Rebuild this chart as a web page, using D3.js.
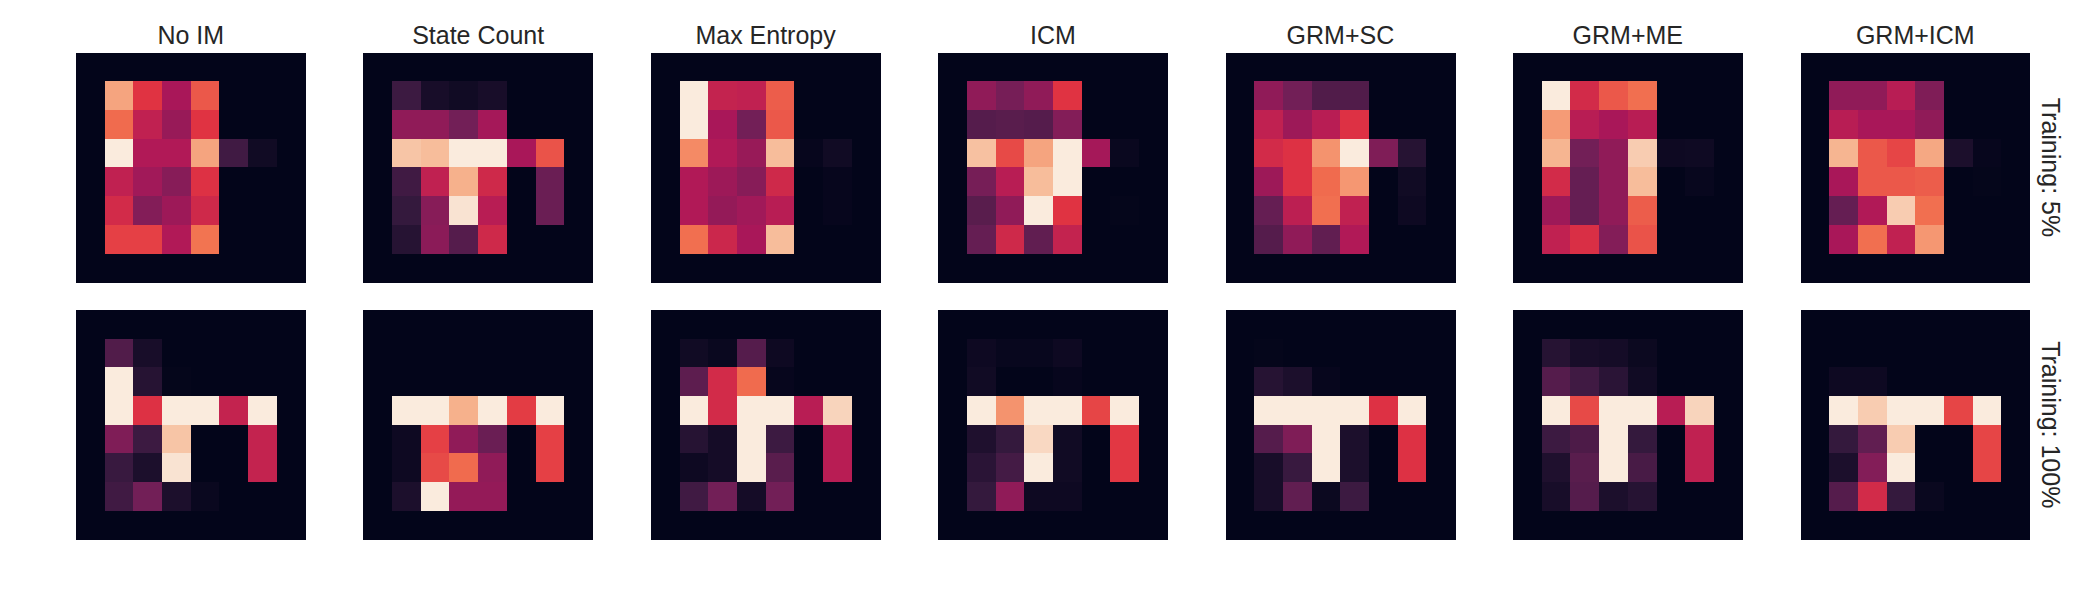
<!DOCTYPE html>
<html>
<head>
<meta charset="utf-8">
<script src="https://cdn.jsdelivr.net/npm/d3@7"></script>
<style>
  body { margin: 0; background: #fff; }
  text { font-family: "Liberation Sans", Arial, sans-serif; fill: #262626; }
</style>
</head>
<body>
<svg id="chart" width="2100" height="600"></svg>
<script>
// column titles and row labels
var methods = ["No IM", "State Count", "Max Entropy", "ICM", "GRM+SC", "GRM+ME", "GRM+ICM"];
var trainings = ["Training: 5%", "Training: 100%"];

// 8x8 visitation maps, values in [0, 1]
var noIM_5 = [
  [0, 0, 0, 0, 0, 0, 0, 0],
  [0, 0.82, 0.57, 0.42, 0.65, 0, 0, 0],
  [0, 0.69, 0.48, 0.38, 0.57, 0, 0, 0],
  [0, 1.00, 0.44, 0.44, 0.82, 0.17, 0.04, 0],
  [0, 0.48, 0.40, 0.34, 0.56, 0, 0, 0],
  [0, 0.53, 0.33, 0.39, 0.52, 0, 0, 0],
  [0, 0.60, 0.60, 0.44, 0.71, 0, 0, 0],
  [0, 0, 0, 0, 0, 0, 0, 0]
];
var stateCount_5 = [
  [0, 0, 0, 0, 0, 0, 0, 0],
  [0, 0.16, 0.06, 0.04, 0.06, 0, 0, 0],
  [0, 0.36, 0.36, 0.29, 0.41, 0, 0, 0],
  [0, 0.90, 0.88, 1.00, 1.00, 0.42, 0.64, 0],
  [0, 0.17, 0.48, 0.85, 0.52, 0, 0.27, 0],
  [0, 0.14, 0.34, 0.98, 0.46, 0, 0.27, 0],
  [0, 0.10, 0.35, 0.22, 0.52, 0, 0, 0],
  [0, 0, 0, 0, 0, 0, 0, 0]
];
var maxEntropy_5 = [
  [0, 0, 0, 0, 0, 0, 0, 0],
  [0, 1.00, 0.49, 0.48, 0.66, 0, 0, 0],
  [0, 1.00, 0.42, 0.29, 0.65, 0, 0, 0],
  [0, 0.76, 0.44, 0.38, 0.88, 0.01, 0.04, 0],
  [0, 0.44, 0.39, 0.34, 0.52, 0, 0.01, 0],
  [0, 0.44, 0.37, 0.40, 0.46, 0, 0.01, 0],
  [0, 0.70, 0.51, 0.42, 0.88, 0, 0, 0],
  [0, 0, 0, 0, 0, 0, 0, 0]
];
var icm_5 = [
  [0, 0, 0, 0, 0, 0, 0, 0],
  [0, 0.36, 0.30, 0.36, 0.57, 0, 0, 0],
  [0, 0.22, 0.23, 0.22, 0.33, 0, 0, 0],
  [0, 0.89, 0.62, 0.82, 1.00, 0.41, 0.02, 0],
  [0, 0.30, 0.46, 0.88, 1.00, 0, 0, 0],
  [0, 0.23, 0.36, 1.00, 0.57, 0, 0.005, 0],
  [0, 0.26, 0.52, 0.25, 0.49, 0, 0, 0],
  [0, 0, 0, 0, 0, 0, 0, 0]
];
var grmSC_5 = [
  [0, 0, 0, 0, 0, 0, 0, 0],
  [0, 0.36, 0.29, 0.21, 0.21, 0, 0, 0],
  [0, 0.48, 0.39, 0.46, 0.56, 0, 0, 0],
  [0, 0.53, 0.56, 0.78, 1.00, 0.32, 0.10, 0],
  [0, 0.39, 0.56, 0.69, 0.79, 0, 0.04, 0],
  [0, 0.26, 0.47, 0.70, 0.48, 0, 0.03, 0],
  [0, 0.22, 0.36, 0.25, 0.44, 0, 0, 0],
  [0, 0, 0, 0, 0, 0, 0, 0]
];
var grmME_5 = [
  [0, 0, 0, 0, 0, 0, 0, 0],
  [0, 1.00, 0.53, 0.65, 0.70, 0, 0, 0],
  [0, 0.80, 0.46, 0.42, 0.46, 0, 0, 0],
  [0, 0.86, 0.29, 0.36, 0.92, 0.03, 0.035, 0],
  [0, 0.53, 0.26, 0.36, 0.88, 0, 0.015, 0],
  [0, 0.39, 0.26, 0.36, 0.66, 0, 0, 0],
  [0, 0.48, 0.55, 0.33, 0.64, 0, 0, 0],
  [0, 0, 0, 0, 0, 0, 0, 0]
];
var grmICM_5 = [
  [0, 0, 0, 0, 0, 0, 0, 0],
  [0, 0.36, 0.36, 0.46, 0.32, 0, 0, 0],
  [0, 0.46, 0.42, 0.42, 0.36, 0, 0, 0],
  [0, 0.86, 0.65, 0.61, 0.83, 0.07, 0.01, 0],
  [0, 0.42, 0.65, 0.65, 0.66, 0, 0.005, 0],
  [0, 0.26, 0.44, 0.92, 0.70, 0, 0, 0],
  [0, 0.42, 0.70, 0.48, 0.79, 0, 0, 0],
  [0, 0, 0, 0, 0, 0, 0, 0]
];

var noIM_100 = [
  [0, 0, 0, 0, 0, 0, 0, 0],
  [0, 0.21, 0.06, 0, 0, 0, 0, 0],
  [0, 1.00, 0.10, 0.005, 0, 0, 0, 0],
  [0, 1.00, 0.56, 1.00, 1.00, 0.49, 1.00, 0],
  [0, 0.32, 0.16, 0.90, 0, 0, 0.49, 0],
  [0, 0.15, 0.07, 0.98, 0, 0, 0.49, 0],
  [0, 0.17, 0.29, 0.07, 0.02, 0, 0, 0],
  [0, 0, 0, 0, 0, 0, 0, 0]
];
var stateCount_100 = [
  [0, 0, 0, 0, 0, 0, 0, 0],
  [0, 0, 0, 0, 0, 0, 0, 0],
  [0, 0, 0, 0, 0, 0, 0, 0],
  [0, 1.00, 1.00, 0.85, 1.00, 0.59, 1.00, 0],
  [0, 0.03, 0.60, 0.36, 0.27, 0, 0.60, 0],
  [0, 0.03, 0.62, 0.69, 0.36, 0, 0.60, 0],
  [0, 0.07, 1.00, 0.37, 0.37, 0, 0, 0],
  [0, 0, 0, 0, 0, 0, 0, 0]
];
var maxEntropy_100 = [
  [0, 0, 0, 0, 0, 0, 0, 0],
  [0, 0.04, 0.02, 0.22, 0.03, 0, 0, 0],
  [0, 0.24, 0.53, 0.69, 0.01, 0, 0, 0],
  [0, 1.00, 0.53, 1.00, 1.00, 0.46, 0.94, 0],
  [0, 0.10, 0.05, 1.00, 0.16, 0, 0.46, 0],
  [0, 0.03, 0.05, 1.00, 0.23, 0, 0.46, 0],
  [0, 0.17, 0.29, 0.05, 0.29, 0, 0, 0],
  [0, 0, 0, 0, 0, 0, 0, 0]
];
var icm_100 = [
  [0, 0, 0, 0, 0, 0, 0, 0],
  [0, 0.03, 0.015, 0.015, 0.03, 0, 0, 0],
  [0, 0.04, 0, 0, 0.01, 0, 0, 0],
  [0, 1.00, 0.78, 1.00, 1.00, 0.61, 1.00, 0],
  [0, 0.08, 0.14, 0.95, 0.04, 0, 0.58, 0],
  [0, 0.11, 0.18, 1.00, 0.04, 0, 0.58, 0],
  [0, 0.14, 0.36, 0.03, 0.03, 0, 0, 0],
  [0, 0, 0, 0, 0, 0, 0, 0]
];
var grmSC_100 = [
  [0, 0, 0, 0, 0, 0, 0, 0],
  [0, 0.005, 0, 0, 0, 0, 0, 0],
  [0, 0.10, 0.07, 0.01, 0, 0, 0, 0],
  [0, 1.00, 1.00, 1.00, 1.00, 0.56, 1.00, 0],
  [0, 0.22, 0.32, 1.00, 0.07, 0, 0.56, 0],
  [0, 0.06, 0.15, 1.00, 0.07, 0, 0.56, 0],
  [0, 0.06, 0.25, 0.025, 0.16, 0, 0, 0],
  [0, 0, 0, 0, 0, 0, 0, 0]
];
var grmME_100 = [
  [0, 0, 0, 0, 0, 0, 0, 0],
  [0, 0.10, 0.06, 0.05, 0.025, 0, 0, 0],
  [0, 0.22, 0.17, 0.11, 0.04, 0, 0, 0],
  [0, 1.00, 0.62, 1.00, 1.00, 0.46, 0.94, 0],
  [0, 0.16, 0.20, 1.00, 0.14, 0, 0.48, 0],
  [0, 0.08, 0.23, 1.00, 0.19, 0, 0.48, 0],
  [0, 0.06, 0.22, 0.07, 0.10, 0, 0, 0],
  [0, 0, 0, 0, 0, 0, 0, 0]
];
var grmICM_100 = [
  [0, 0, 0, 0, 0, 0, 0, 0],
  [0, 0, 0, 0, 0, 0, 0, 0],
  [0, 0.03, 0.03, 0, 0, 0, 0, 0],
  [0, 1.00, 0.92, 1.00, 1.00, 0.61, 1.00, 0],
  [0, 0.14, 0.25, 0.92, 0, 0, 0.61, 0],
  [0, 0.07, 0.33, 1.00, 0, 0, 0.61, 0],
  [0, 0.22, 0.53, 0.14, 0.02, 0, 0, 0],
  [0, 0, 0, 0, 0, 0, 0, 0]
];

var grids = [
  [noIM_5, stateCount_5, maxEntropy_5, icm_5, grmSC_5, grmME_5, grmICM_5],
  [noIM_100, stateCount_100, maxEntropy_100, icm_100, grmSC_100, grmME_100, grmICM_100]
];

// seaborn "rocket" colormap, piecewise linear
var rocket = d3.piecewise(d3.interpolateRgb,
  ["#03051a", "#35193e", "#701f57", "#ad1759", "#e13342", "#f37651", "#f6b48f", "#faebdd"]);
var color = d3.scaleSequential(rocket).domain([0, 1]).clamp(true);

var svg = d3.select("#chart");

// panel layout
var size = 229.5;
var colX = d3.scalePoint().domain(d3.range(methods.length)).range([76, 1800.5]);
var rowY = d3.scalePoint().domain(d3.range(trainings.length)).range([52.7, 310]);

var cellX = d3.scaleBand().domain(d3.range(8)).range([0, size]);
var cellY = d3.scaleBand().domain(d3.range(8)).range([0, size]);

grids.forEach(function(rowGrids, r) {
  rowGrids.forEach(function(grid, c) {
    var g = svg.append("g")
        .attr("transform", "translate(" + colX(c) + "," + rowY(r) + ")");

    var cells = [];
    grid.forEach(function(row, i) {
      row.forEach(function(v, j) { cells.push({i: i, j: j, v: v}); });
    });

    g.selectAll("rect")
      .data(cells)
      .enter()
      .append("rect")
        .attr("x", function(d) { return cellX(d.j); })
        .attr("y", function(d) { return cellY(d.i); })
        .attr("width", cellX.bandwidth() + 0.4)
        .attr("height", cellY.bandwidth() + 0.4)
        .attr("shape-rendering", "crispEdges")
        .attr("fill", function(d) { return color(d.v); });

    // column titles on the top row
    if (r === 0) {
      g.append("text")
        .attr("x", size / 2)
        .attr("y", -8.3)
        .attr("text-anchor", "middle")
        .style("font-size", "25px")
        .text(methods[c]);
    }
  });

  // row label on the right side
  svg.append("text")
    .attr("transform", "translate(2041.5," + (rowY(r) + size / 2) + ") rotate(90)")
    .attr("text-anchor", "middle")
    .style("font-size", "25px")
    .text(trainings[r]);
});
</script>
</body>
</html>
